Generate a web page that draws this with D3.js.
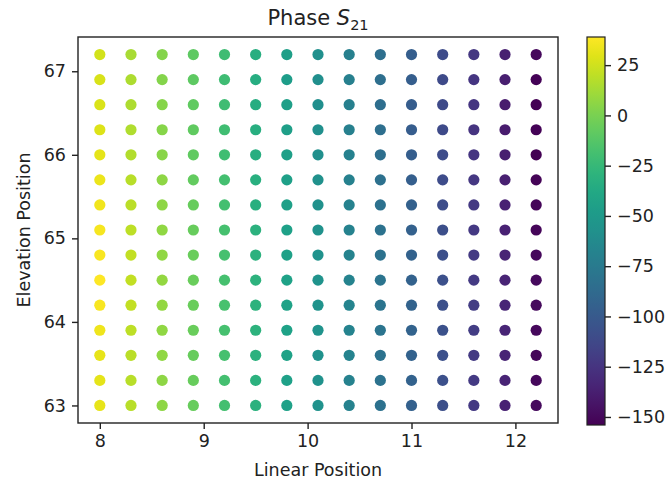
<!DOCTYPE html>
<html>
<head>
<meta charset="utf-8">
<script src="https://cdn.jsdelivr.net/npm/d3@7"></script>
<style>
   body { margin: 0; background: #fff; }
   svg text { font-family: "DejaVu Sans", sans-serif; fill: #222; }
</style>
</head>
<body>
<svg width="669" height="482"></svg>
<script>
// grid positions
var linearPositions = [8.0, 8.3, 8.6, 8.9, 9.2, 9.5, 9.8, 10.1, 10.4, 10.7, 11.0, 11.3, 11.6, 11.9, 12.2];
var elevationPositions = [67.2, 66.9, 66.6, 66.3, 66.0, 65.7, 65.4, 65.1, 64.8, 64.5, 64.2, 63.9, 63.6, 63.3, 63.0];

// phase S21 (deg), one row per elevation
var phase672 = [26, 14, 3, -9, -21, -33, -46, -58, -71, -84, -97, -110, -123, -137, -150];
var phase669 = [27, 15, 3, -9, -21, -34, -47, -59, -71, -84, -97, -111, -124, -138, -153];
var phase666 = [28, 15, 4, -8, -21, -34, -46, -59, -71, -85, -98, -111, -124, -139, -154];
var phase663 = [29, 16, 4, -8, -20, -33, -46, -58, -71, -84, -98, -111, -125, -139, -153];
var phase660 = [31, 17, 5, -8, -20, -33, -46, -58, -70, -84, -97, -110, -124, -138, -154];
var phase657 = [33, 18, 6, -7, -19, -32, -45, -57, -70, -83, -96, -110, -123, -137, -152];
var phase654 = [35, 19, 6, -6, -19, -32, -45, -57, -69, -82, -95, -109, -122, -136, -151];
var phase651 = [36, 20, 7, -6, -18, -31, -44, -56, -69, -81, -95, -108, -122, -136, -151];
var phase648 = [37, 21, 7, -5, -18, -31, -44, -56, -68, -81, -94, -108, -121, -135, -150];
var phase645 = [39, 21, 8, -5, -18, -30, -43, -55, -68, -80, -94, -107, -121, -135, -149];
var phase642 = [37, 21, 8, -5, -17, -30, -43, -55, -67, -80, -93, -107, -120, -134, -149];
var phase639 = [34, 20, 7, -5, -18, -30, -43, -55, -68, -80, -93, -106, -120, -134, -150];
var phase636 = [32, 19, 7, -6, -18, -31, -43, -56, -68, -81, -94, -107, -121, -135, -151];
var phase633 = [31, 18, 6, -6, -19, -31, -44, -56, -69, -81, -94, -107, -121, -135, -150];
var phase630 = [32, 18, 6, -6, -19, -31, -44, -56, -69, -82, -95, -108, -122, -136, -149];

var phaseRows = [phase672, phase669, phase666, phase663, phase660, phase657, phase654, phase651,
   phase648, phase645, phase642, phase639, phase636, phase633, phase630];

var xTicks = [8, 9, 10, 11, 12];
var yTicks = [63, 64, 65, 66, 67];
var colorTicks = [25, 0, -25, -50, -75, -100, -125, -150];

(function () {
   var svg = d3.select("svg");
   var plot = {left: 78, right: 558, top: 37, bottom: 423};
   var bar = {left: 587, right: 605, top: 37, bottom: 425};
   var fontSize = 17.5;

   // flatten into points
   var points = [];
   phaseRows.forEach(function (row, i) {
      row.forEach(function (v, j) {
         points.push({x: linearPositions[j], y: elevationPositions[i], phase: v});
      });
   });

   var xExt = d3.extent(linearPositions), yExt = d3.extent(elevationPositions);
   var xPad = (xExt[1] - xExt[0]) * 0.05, yPad = (yExt[1] - yExt[0]) * 0.05;

   var x = d3.scaleLinear().domain([xExt[0] - xPad, xExt[1] + xPad]).range([plot.left, plot.right]);
   var y = d3.scaleLinear().domain([yExt[0] - yPad, yExt[1] + yPad]).range([plot.bottom, plot.top]);
   var phaseExt = d3.extent(points, function (d) { return d.phase; });
   var color = d3.scaleSequential(d3.interpolateViridis).domain(phaseExt);

   // dots
   svg.append("g").selectAll("circle")
      .data(points)
      .enter().append("circle")
      .attr("cx", function (d) { return x(d.x); })
      .attr("cy", function (d) { return y(d.y); })
      .attr("r", 5.6)
      .attr("fill", function (d) { return color(d.phase); });

   // axes
   var xAxis = svg.append("g")
      .attr("transform", "translate(0," + plot.bottom + ")")
      .call(d3.axisBottom(x).tickValues(xTicks).tickFormat(d3.format("d")).tickSizeOuter(0).tickSize(6).tickPadding(6));
   var yAxis = svg.append("g")
      .attr("transform", "translate(" + plot.left + ",0)")
      .call(d3.axisLeft(y).tickValues(yTicks).tickFormat(d3.format("d")).tickSizeOuter(0).tickSize(6).tickPadding(6));
   [xAxis, yAxis].forEach(function (g) {
      g.select(".domain").remove();
      g.selectAll("line").attr("stroke", "#222").attr("stroke-width", 1.4);
      g.selectAll("text").style("font-size", fontSize + "px").style("font-family", "DejaVu Sans").attr("fill", "#222");
   });

   // frame
   svg.append("rect")
      .attr("x", plot.left).attr("y", plot.top)
      .attr("width", plot.right - plot.left).attr("height", plot.bottom - plot.top)
      .attr("fill", "none").attr("stroke", "#222").attr("stroke-width", 1.4);

   // labels
   svg.append("text")
      .attr("x", (plot.left + plot.right) / 2).attr("y", 476)
      .attr("text-anchor", "middle").style("font-size", fontSize + "px")
      .text("Linear Position");
   svg.append("text")
      .attr("transform", "translate(30," + (plot.top + plot.bottom) / 2 + ") rotate(-90)")
      .attr("text-anchor", "middle").style("font-size", fontSize + "px")
      .text("Elevation Position");

   var title = svg.append("text")
      .attr("x", (plot.left + plot.right) / 2).attr("y", 25)
      .attr("text-anchor", "middle").style("font-size", "21px");
   title.append("tspan").text("Phase ");
   title.append("tspan").style("font-style", "italic").text("S");
   title.append("tspan").attr("dy", 5).style("font-size", "14.5px").text("21");

   // colorbar
   var grad = svg.append("defs").append("linearGradient")
      .attr("id", "viridis").attr("x1", 0).attr("y1", 1).attr("x2", 0).attr("y2", 0);
   d3.range(0, 1.0001, 0.05).forEach(function (t) {
      grad.append("stop").attr("offset", t).attr("stop-color", d3.interpolateViridis(t));
   });
   svg.append("rect")
      .attr("x", bar.left).attr("y", bar.top)
      .attr("width", bar.right - bar.left).attr("height", bar.bottom - bar.top)
      .attr("fill", "url(#viridis)").attr("stroke", "#222").attr("stroke-width", 1.2);

   var cScale = d3.scaleLinear().domain(phaseExt).range([bar.bottom, bar.top]);
   var cAxis = svg.append("g")
      .attr("transform", "translate(" + bar.right + ",0)")
      .call(d3.axisRight(cScale).tickValues(colorTicks).tickSizeOuter(0).tickSize(6).tickPadding(6));
   cAxis.select(".domain").remove();
   cAxis.selectAll("line").attr("stroke", "#222").attr("stroke-width", 1.4);
   cAxis.selectAll("text").style("font-size", fontSize + "px").style("font-family", "DejaVu Sans").attr("fill", "#222");
})();
</script>
</body>
</html>
